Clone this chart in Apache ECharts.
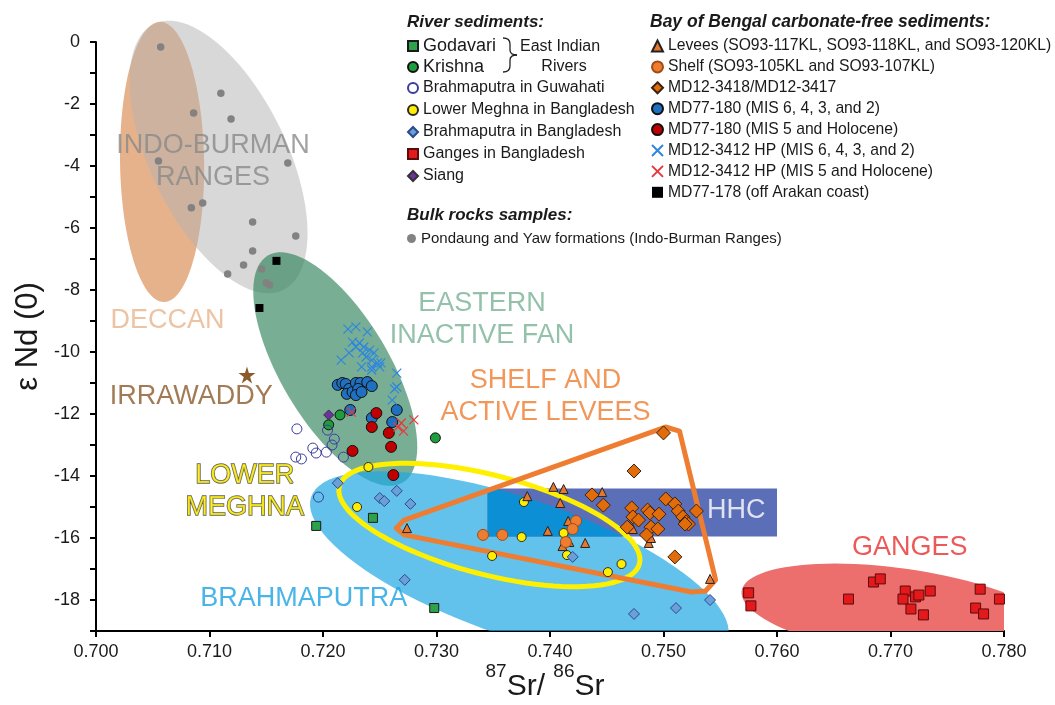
<!DOCTYPE html>
<html><head><meta charset="utf-8">
<script src="https://cdn.jsdelivr.net/npm/echarts@6/dist/echarts.min.js"></script>
<style>html,body{margin:0;padding:0;background:#fff}#c{width:1055px;height:705px}</style>
</head><body><div id="c"></div>
<script>
const FONT = '"Liberation Sans", Arial, Helvetica, sans-serif';

// ---- Data: [87Sr/86Sr, eNd(0)] ----
const godavari = [[0.7194,-15.61],[0.7244,-15.35],[0.7298,-18.26]];
const krishna = [[0.7215,-12.03],[0.7205,-12.35],[0.7299,-12.77]];
const brahmaGuwahati = [[0.7177,-12.48],[0.7204,-12.52],[0.7210,-12.81],[0.7208,-13.00],[0.7191,-13.10],[0.7194,-13.26],[0.7203,-13.23],[0.7176,-13.39],[0.7181,-13.45],[0.7218,-13.39],[0.7196,-14.68]];
const lowerMeghna = [[0.7240,-13.71],[0.7230,-15.00],[0.7377,-14.84],[0.7375,-15.97],[0.7349,-16.58],[0.7412,-15.84],[0.7415,-16.55],[0.7451,-17.10],[0.7463,-16.84]];
const brahmaBangladesh = [[0.7213,-14.23],[0.7265,-14.48],[0.7250,-14.71],[0.7254,-14.81],[0.7277,-14.90],[0.7272,-17.35],[0.7420,-16.61],[0.7474,-18.45],[0.7511,-18.26],[0.7541,-18.00],[0.7547,-19.03]];
const gangesBangladesh = [[0.7575,-17.77],[0.7577,-18.19],[0.7663,-17.97],[0.7685,-17.42],[0.7691,-17.32],[0.7713,-17.71],[0.7711,-17.97],[0.7722,-17.90],[0.7725,-17.84],[0.7735,-17.71],[0.7718,-18.29],[0.7729,-18.48],[0.7779,-17.65],[0.7775,-18.26],[0.7782,-18.45],[0.7796,-17.97]];
const siang = [[0.7205,-12.03]];
const levees = [[0.7380,-14.65],[0.7274,-15.68],[0.7398,-15.77],[0.7403,-14.35],[0.7412,-14.42],[0.7409,-14.87],[0.7416,-15.45],[0.7417,-16.13],[0.7411,-16.26],[0.7431,-16.16],[0.7446,-14.52],[0.7473,-15.71],[0.7487,-16.16],[0.7489,-16.00],[0.7541,-17.32]];
const shelf = [[0.7341,-15.90],[0.7358,-15.90],[0.7423,-15.45],[0.7420,-15.71],[0.7414,-16.13]];
const md3418 = [[0.7500,-12.61],[0.7474,-13.84],[0.7437,-14.61],[0.7447,-14.94],[0.7502,-14.74],[0.7510,-14.90],[0.7513,-15.13],[0.7517,-15.32],[0.7520,-15.48],[0.7522,-15.55],[0.7519,-15.55],[0.7529,-15.13],[0.7472,-15.03],[0.7473,-15.32],[0.7478,-15.42],[0.7468,-15.65],[0.7486,-15.10],[0.7488,-15.19],[0.7496,-15.23],[0.7489,-15.65],[0.7495,-15.71],[0.7485,-15.90],[0.7510,-16.61]];
const md180Glacial = [[0.7213,-11.06],[0.7217,-11.00],[0.7220,-11.03],[0.7223,-11.19],[0.7221,-11.35],[0.7226,-11.29],[0.7229,-11.00],[0.7233,-11.00],[0.7231,-11.19],[0.7229,-11.39],[0.7234,-11.29],[0.7239,-10.97],[0.7243,-11.10],[0.7224,-11.87],[0.7265,-11.87],[0.7243,-12.13],[0.7261,-12.26]];
const md180Interglacial = [[0.7247,-11.97],[0.7243,-12.42],[0.7258,-12.61],[0.7260,-13.06],[0.7226,-13.19],[0.7262,-13.97]];
const md3412Glacial = [[0.7222,-9.26],[0.7229,-9.19],[0.7239,-9.35],[0.7226,-9.68],[0.7232,-9.71],[0.7229,-9.84],[0.7236,-9.84],[0.7241,-9.94],[0.7223,-10.03],[0.7216,-10.26],[0.7235,-10.03],[0.7245,-10.03],[0.7238,-10.16],[0.7243,-10.26],[0.7248,-10.35],[0.7251,-10.35],[0.7234,-10.48],[0.7243,-10.48],[0.7250,-10.48],[0.7243,-10.58],[0.7265,-10.68],[0.7265,-11.13],[0.7263,-11.19],[0.7261,-11.55]];
const md3412Interglacial = [[0.7225,-11.94],[0.7269,-12.29],[0.7280,-12.19],[0.7271,-12.55],[0.7266,-12.42]];
const md178 = [[0.7159,-7.06],[0.7144,-8.58]];
const pondaungYaw = [[0.7057,-0.16],[0.7110,-1.65],[0.7086,-2.29],[0.7119,-2.48],[0.7055,-3.84],[0.7169,-3.90],[0.7094,-5.19],[0.7084,-5.35],[0.7138,-5.81],[0.7176,-6.26],[0.7138,-6.74],[0.7130,-7.19],[0.7146,-7.32],[0.7116,-7.48],[0.7150,-7.77],[0.7153,-7.84]];
const irrawaddy = [[0.7133,-10.74]];

// ---- Fields: [centre x, centre y, major-axis end x, major-axis end y, minor/major ratio] ----
const indoBurmanField = [0.71080, -3.71, 0.71649, -8.00, 0.46];
const deccanField = [0.70582, -3.87, 0.70600, -8.39, 0.30];
const easternFanField = [0.72108, -10.55, 0.72703, -14.21, 0.41];
const brahmaputraField = [0.73730, -16.97, 0.75564, -19.27, 0.314];
const gangesField = [0.77081, -18.42, 0.78474, -19.13, 0.28];
const lowerMeghnaField = [0.73466, -15.58, 0.74788, -16.83, 0.32];
const shelfLeveesField = [[0.72646,-15.68],[0.72716,-15.42],[0.75018,-12.42],[0.75141,-12.55],[0.75459,-17.35],[0.75370,-17.71],[0.75247,-17.74],[0.72716,-15.90],[0.72646,-15.68]];
const hhcBox = [0.7345, -14.40, 0.7600, -15.95];

// ---- Text ----
const xTicks = [0.70, 0.71, 0.72, 0.73, 0.74, 0.75, 0.76, 0.77, 0.78];
const regionLabels = [
  ['INDO-BURMAN\nRANGES', 0.7103, -3.87],
  ['DECCAN', 0.7063, -8.97],
  ['IRRAWADDY', 0.7084, -11.44],
  ['EASTERN\nINACTIVE FAN', 0.7340, -8.94],
  ['SHELF AND\nACTIVE LEVEES', 0.7396, -11.45],
  ['LOWER\nMEGHNA', 0.7131, -14.50],
  ['HHC', 0.7564, -15.10],
  ['GANGES', 0.7717, -16.32],
  ['BRAHMAPUTRA', 0.7183, -17.94]
];
const regionColors = ['#8a8a8a','#e8b48c','#8b5a2b','#78b295','#ef7d31','#ffee00','#ffffff','#e8302f','#1ba1e2'];

const riverLegendA = ['Godavari','Krishna'];
const riverLegendB = ['Brahmaputra in Guwahati','Lower Meghna in Bangladesh','Brahmaputra in Bangladesh','Ganges in Bangladesh','Siang'];
const bayLegend = ['Levees (SO93-117KL, SO93-118KL, and SO93-120KL)','Shelf (SO93-105KL and SO93-107KL)','MD12-3418/MD12-3417','MD77-180 (MIS 6, 4, 3, and 2)','MD77-180 (MIS 5 and Holocene)','MD12-3412 HP (MIS 6, 4, 3, and 2)','MD12-3412 HP (MIS 5 and Holocene)','MD77-178 (off Arakan coast)'];
const bulkLegend = ['Pondaung and Yaw formations (Indo-Burman Ranges)'];

// ---- helpers ----
function ellipsePx(api, f) {
  const c = api.coord([f[0], f[1]]);
  const m = api.coord([f[2], f[3]]);
  const ax = m[0]-c[0], ay = m[1]-c[1];
  const bx = -ay*f[4], by = ax*f[4];
  const pts = [];
  const N = 96;
  for (let i = 0; i < N; i++) {
    const t = i/N*2*Math.PI;
    pts.push([c[0]+Math.cos(t)*ax+Math.sin(t)*bx, c[1]+Math.cos(t)*ay+Math.sin(t)*by]);
  }
  return pts;
}
function clipPoly(pts, x0, y0, x1, y1) {
  const edges = [
    p => p[0] >= x0, p => p[0] <= x1, p => p[1] >= y0, p => p[1] <= y1
  ];
  const inter = [
    (a,b) => [x0, a[1]+(b[1]-a[1])*(x0-a[0])/(b[0]-a[0])],
    (a,b) => [x1, a[1]+(b[1]-a[1])*(x1-a[0])/(b[0]-a[0])],
    (a,b) => [a[0]+(b[0]-a[0])*(y0-a[1])/(b[1]-a[1]), y0],
    (a,b) => [a[0]+(b[0]-a[0])*(y1-a[1])/(b[1]-a[1]), y1]
  ];
  let out = pts;
  for (let k = 0; k < 4; k++) {
    const inp = out; out = [];
    if (!inp.length) break;
    for (let i = 0; i < inp.length; i++) {
      const cur = inp[i], prev = inp[(i+inp.length-1)%inp.length];
      const ci = edges[k](cur), pi = edges[k](prev);
      if (ci) { if (!pi) out.push(inter[k](prev, cur)); out.push(cur); }
      else if (pi) out.push(inter[k](prev, cur));
    }
  }
  return out;
}
function fieldSeries(field, fill, clip, z) {
  return {
    type: 'custom', silent: true, z: z, clip: clip,
    data: [field], encode: {x: [0, 2], y: [1, 3]},
    renderItem: function (params, api) {
      const f = [api.value(0), api.value(1), api.value(2), api.value(3), api.value(4)];
      return {type: 'polygon', shape: {points: ellipsePx(api, f)}, style: {fill: fill}};
    }
  };
}
function pts(name, data, symbol, size, color, border, bw) {
  return {
    name: name, type: 'scatter', data: data, symbol: symbol, symbolSize: size, z: 5,
    itemStyle: {color: color, borderColor: border, borderWidth: bw, opacity: 1},
    emphasis: {disabled: true}
  };
}
const CROSS = 'path://M0,0L10,10M10,0L0,10';
const STAR = 'path://M50,0L61,35L98,35L68,57L79,91L50,70L21,91L32,57L2,35L39,35Z';

const chart = echarts.init(document.getElementById('c'), null, {renderer: 'canvas'});
const legendText = {color: '#1a1a1a', fontFamily: FONT};
const braceStyle = {fill: null, stroke: '#222', lineWidth: 1.3};

const option = {
  animation: false,
  backgroundColor: '#ffffff',
  grid: {left: 96, right: 51, top: 42, bottom: 74, containLabel: false, outerBoundsMode: 'none'},
  xAxis: {
    type: 'value', min: 0.70, max: 0.78, interval: 0.01,
    axisLine: {show: true, onZero: false, lineStyle: {color: '#000', width: 2}},
    axisTick: {show: true, inside: false, length: 6, lineStyle: {color: '#000', width: 2}},
    splitLine: {show: false},
    axisLabel: {fontSize: 18, color: '#1a1a1a', fontFamily: FONT, margin: 12,
      formatter: v => { const t = xTicks.find(k => Math.abs(k - v) < 1e-6); return t === undefined ? '' : t.toFixed(3); }},
    name: '{s|87}{n|Sr/ }{s|86}{n|Sr}', nameLocation: 'middle', nameGap: 31, nameMoveOverlap: false,
    nameTextStyle: {fontFamily: FONT, color: '#1a1a1a', padding: [0, 10, 0, 0],
      rich: {n: {fontSize: 30, fontFamily: FONT, color: '#1a1a1a', verticalAlign: 'bottom', lineHeight: 40},
             s: {fontSize: 19, fontFamily: FONT, color: '#1a1a1a', verticalAlign: 'top', lineHeight: 10}}}
  },
  yAxis: {
    type: 'value', min: -19, max: 0, interval: 1,
    axisLine: {show: true, onZero: false, lineStyle: {color: '#000', width: 2}},
    axisTick: {show: true, inside: false, length: 6, lineStyle: {color: '#000', width: 2}},
    splitLine: {show: false},
    axisLabel: {fontSize: 18, color: '#1a1a1a', fontFamily: FONT, margin: 16,
      formatter: v => (Math.round(v) % 2 === 0) ? (v === 0 ? '0' : String(v)) : ''},
    name: 'ε Nd (0)', nameLocation: 'middle', nameGap: 52, nameRotate: 90, nameMoveOverlap: false,
    nameTextStyle: {fontSize: 31, fontFamily: FONT, color: '#1a1a1a'}
  },
  legend: [
    {left: 407, top: 37, orient: 'vertical', padding: 0, itemGap: 3, itemWidth: 10, itemHeight: 10,
     selectedMode: false, textStyle: Object.assign({fontSize: 18}, legendText), data: riverLegendA},
    {left: 407, top: 80, orient: 'vertical', padding: 0, itemGap: 6, itemWidth: 10, itemHeight: 10,
     selectedMode: false, textStyle: Object.assign({fontSize: 16}, legendText), data: riverLegendB},
    {left: 407, top: 231, orient: 'vertical', padding: 0, itemGap: 6, itemWidth: 9, itemHeight: 9,
     selectedMode: false, textStyle: Object.assign({fontSize: 15}, legendText), data: bulkLegend},
    {left: 651, top: 38, orient: 'vertical', padding: 0, itemGap: 4.9, itemWidth: 11, itemHeight: 11,
     selectedMode: false, textStyle: Object.assign({fontSize: 15.7}, legendText), data: bayLegend}
  ],
  graphic: [
    {type: 'text', x: 407, y: 22, style: {text: 'River sediments:', font: 'italic bold 17px ' + FONT, fill: '#1a1a1a', verticalAlign: 'middle'}},
    {type: 'text', x: 650, y: 22, style: {text: 'Bay of Bengal carbonate-free sediments:', font: 'italic bold 17.5px ' + FONT, fill: '#1a1a1a', verticalAlign: 'middle'}},
    {type: 'text', x: 407, y: 215, style: {text: 'Bulk rocks samples:', font: 'italic bold 17px ' + FONT, fill: '#1a1a1a', verticalAlign: 'middle'}},
    {type: 'text', x: 560, y: 47, style: {text: 'East Indian', font: '16px ' + FONT, fill: '#1a1a1a', align: 'center', verticalAlign: 'middle'}},
    {type: 'text', x: 564, y: 67, style: {text: 'Rivers', font: '16px ' + FONT, fill: '#1a1a1a', align: 'center', verticalAlign: 'middle'}},
    {type: 'bezierCurve', shape: {x1: 503, y1: 38, x2: 510, y2: 44, cpx1: 510, cpy1: 38}, style: braceStyle},
    {type: 'line', shape: {x1: 510, y1: 44, x2: 510, y2: 50}, style: braceStyle},
    {type: 'bezierCurve', shape: {x1: 510, y1: 50, x2: 517, y2: 55, cpx1: 510, cpy1: 55}, style: braceStyle},
    {type: 'bezierCurve', shape: {x1: 517, y1: 55, x2: 510, y2: 60, cpx1: 510, cpy1: 55}, style: braceStyle},
    {type: 'line', shape: {x1: 510, y1: 60, x2: 510, y2: 66}, style: braceStyle},
    {type: 'bezierCurve', shape: {x1: 510, y1: 66, x2: 503, y2: 72, cpx1: 510, cpy1: 72}, style: braceStyle}
  ],
  series: [
    fieldSeries(deccanField, '#e6b28c', false, 1),
    fieldSeries(indoBurmanField, 'rgba(178,178,178,0.5)', false, 1.1),
    fieldSeries(easternFanField, 'rgba(48,132,91,0.65)', false, 1.2),
    fieldSeries(brahmaputraField, 'rgba(31,168,228,0.7)', true, 1.3),
    fieldSeries(gangesField, '#ec6f6d', true, 1.3),
    {
      type: 'custom', silent: true, z: 2, clip: true,
      data: [hhcBox], encode: {x: [0, 2], y: [1, 3]},
      renderItem: function (params, api) {
        const p0 = api.coord([api.value(0), api.value(1)]);
        const p1 = api.coord([api.value(2), api.value(3)]);
        const x0 = Math.min(p0[0], p1[0]), x1 = Math.max(p0[0], p1[0]);
        const y0 = Math.min(p0[1], p1[1]), y1 = Math.max(p0[1], p1[1]);
        const inter = clipPoly(ellipsePx(api, brahmaputraField), x0, y0, x1, y1);
        return {type: 'group', children: [
          {type: 'rect', shape: {x: x0, y: y0, width: x1 - x0, height: y1 - y0}, style: {fill: '#5b6fb8'}},
          {type: 'polygon', shape: {points: inter}, style: {fill: '#0c8fd4'}}
        ]};
      }
    },
    {
      type: 'custom', silent: true, z: 3, clip: false,
      data: [lowerMeghnaField], encode: {x: [0, 2], y: [1, 3]},
      renderItem: function (params, api) {
        const f = [api.value(0), api.value(1), api.value(2), api.value(3), api.value(4)];
        return {type: 'polygon', shape: {points: ellipsePx(api, f)}, style: {fill: null, stroke: '#fff000', lineWidth: 5}};
      }
    },
    {
      type: 'line', silent: true, z: 3, data: shelfLeveesField, symbol: 'none', smooth: false,
      lineStyle: {color: '#ee7d31', width: 5, join: 'round', cap: 'round'}, emphasis: {disabled: true}
    },
    {
      type: 'scatter', silent: true, z: 4, symbol: 'circle', symbolSize: 1,
      itemStyle: {color: 'rgba(0,0,0,0)'},
      data: regionLabels.map((r, i) => ({
        value: [r[1], r[2]], name: r[0],
        label: {color: regionColors[i],
          textBorderColor: r[0] === 'LOWER\nMEGHNA' ? '#333' : 'transparent',
          textBorderWidth: r[0] === 'LOWER\nMEGHNA' ? 1.4 : 0}
      })),
      label: {show: true, position: 'inside', formatter: '{b}', fontSize: 27, fontFamily: FONT, lineHeight: 32, align: 'center'},
      emphasis: {disabled: true}
    },
    pts('Pondaung and Yaw formations (Indo-Burman Ranges)', pondaungYaw, 'circle', 7.5, '#828282', '#828282', 0),
    pts('Godavari', godavari, 'rect', 9, '#2ea24a', '#1a1a1a', 1),
    pts('Krishna', krishna, 'circle', 10, '#1f9d3d', '#111', 1),
    pts('Brahmaputra in Guwahati', brahmaGuwahati, 'circle', 10, 'rgba(255,255,255,0)', '#3c3c9c', 1),
    pts('Lower Meghna in Bangladesh', lowerMeghna, 'circle', 9, '#ffee00', '#2a2a2a', 1),
    pts('Brahmaputra in Bangladesh', brahmaBangladesh, 'diamond', 11, '#6a9fd8', '#2a4a8a', 1),
    pts('Ganges in Bangladesh', gangesBangladesh, 'rect', 10, '#e3191c', '#5a0c0c', 1),
    pts('Siang', siang, 'diamond', 10, '#7030a0', '#333', 1),
    pts('Levees (SO93-117KL, SO93-118KL, and SO93-120KL)', levees, 'triangle', 9, '#e8772e', '#222', 1),
    pts('Shelf (SO93-105KL and SO93-107KL)', shelf, 'circle', 11, '#ee7d31', '#a04d14', 1),
    pts('MD12-3418/MD12-3417', md3418, 'diamond', 14, '#e36c0a', '#3a2210', 1),
    pts('MD77-180 (MIS 6, 4, 3, and 2)', md180Glacial, 'circle', 11, '#1f70c1', '#111', 1),
    pts('MD77-180 (MIS 5 and Holocene)', md180Interglacial, 'circle', 11, '#c00000', '#111', 1),
    pts('MD12-3412 HP (MIS 6, 4, 3, and 2)', md3412Glacial, CROSS, 9, '#2e86de', '#2e86de', 1.2),
    pts('MD12-3412 HP (MIS 5 and Holocene)', md3412Interglacial, CROSS, 9, '#e8383d', '#e8383d', 1.2),
    pts('MD77-178 (off Arakan coast)', md178, 'rect', 8, '#000', '#000', 0),
    pts('Irrawaddy', irrawaddy, STAR, 17, '#8b5a2b', '#8b5a2b', 0)
  ]
};
chart.setOption(option);
</script></body></html>
